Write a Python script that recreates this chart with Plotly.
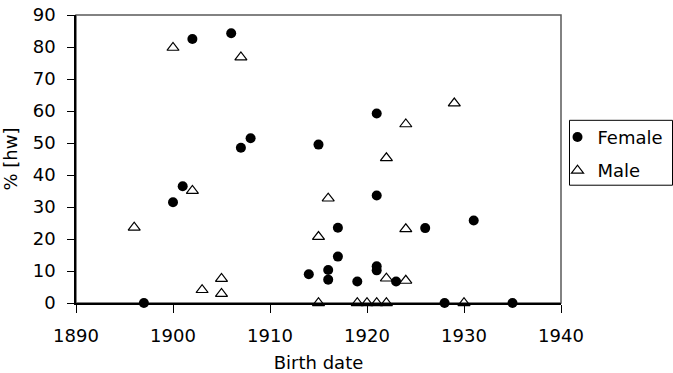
import plotly.graph_objects as go

# Data
female_x = [1897, 1900, 1901, 1902, 1906, 1907, 1908, 1914, 1915, 1916, 1916, 1917, 1917,
            1919, 1921, 1921, 1921, 1921, 1923, 1926, 1928, 1931, 1935]
female_y = [0, 31.5, 36.5, 82.5, 84.3, 48.5, 51.5, 9.0, 49.5, 10.3, 7.3, 23.5, 14.5,
            6.7, 59.2, 33.6, 11.5, 10.2, 6.7, 23.4, 0, 25.8, 0]

male_x = [1896, 1900, 1902, 1903, 1905, 1905, 1907, 1915, 1915, 1916, 1919, 1920, 1921,
          1922, 1922, 1922, 1924, 1924, 1924, 1929, 1930]
male_y = [23.6, 79.8, 35.1, 4.1, 7.6, 2.9, 76.8, 20.7, 0, 32.7, 0, 0, 0,
          0, 7.7, 45.3, 55.9, 23.1, 7.0, 62.4, 0]

x_ticks = [1890, 1900, 1910, 1920, 1930, 1940]
y_ticks = [0, 10, 20, 30, 40, 50, 60, 70, 80, 90]

FONT = "DejaVu Sans"
FS = 18

L, R, T, B = 76, 112, 15, 69.5
PW = 673 - L - R
PH = 373 - T - B

def px_x(px):
    return (px - L) / PW

def px_y(py):
    return (373 - B - py) / PH

fig = go.Figure()
fig.add_trace(go.Scatter(
    x=female_x, y=female_y, mode="markers", name="Female", legendgroup="f",
    marker=dict(symbol="circle", size=10, color="black", line=dict(width=0)),
    cliponaxis=False,
))
fig.add_trace(go.Scatter(
    x=male_x, y=male_y, mode="markers", name="Male", legendgroup="m",
    marker=dict(symbol="triangle-up-open", size=10.5, color="black", line=dict(width=1.2, color="black")),
    cliponaxis=False,
))

fig.update_layout(
    width=673, height=373,
    margin=dict(l=L, r=R, t=T, b=B, autoexpand=False),
    paper_bgcolor="white", plot_bgcolor="white",
    font=dict(family=FONT, size=FS, color="black"),
    showlegend=True,
    legend=dict(
        x=px_x(557.5), y=px_y(119), xanchor="left", yanchor="top",
        borderwidth=0, bgcolor="rgba(0,0,0,0)",
        font=dict(family=FONT, size=FS, color="black"),
        tracegroupgap=7, itemwidth=30,
    ),
    shapes=[
        dict(type="rect", xref="paper", yref="paper", x0=0, x1=1, y0=0, y1=1,
             line=dict(color="#5a5a5a", width=1.5), layer="below"),
        dict(type="rect", xref="paper", yref="paper",
             x0=px_x(569.5), x1=px_x(672.5), y0=px_y(185.5), y1=px_y(120.5),
             line=dict(color="black", width=1), fillcolor="rgba(0,0,0,0)", layer="above"),
    ],
)

fig.update_xaxes(
    range=[1890, 1940], tickvals=x_ticks, ticktext=[str(v) for v in x_ticks],
    showgrid=False, zeroline=False, automargin=False,
    showline=True, linecolor="black", linewidth=1.5,
    ticks="outside", ticklen=8, tickwidth=1, tickcolor="black",
    ticklabelstandoff=8,
    title=dict(text="Birth date", standoff=14, font=dict(family=FONT, size=FS)),
)
fig.update_yaxes(
    range=[0, 90], tickvals=y_ticks, ticktext=[str(v) for v in y_ticks],
    showgrid=False, zeroline=False, automargin=False,
    showline=True, linecolor="black", linewidth=1.5,
    ticks="outside", ticklen=7, tickwidth=1, tickcolor="black",
    ticklabelstandoff=8,
    title=dict(text="% [hw]", standoff=12, font=dict(family=FONT, size=FS)),
)

fig.write_html("out.html")
